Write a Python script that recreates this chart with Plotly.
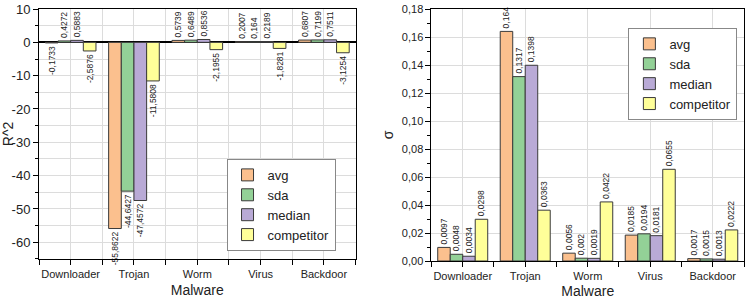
import plotly.graph_objects as go

categories = ["Downloader", "Trojan", "Worm", "Virus", "Backdoor"]
series_names = ["avg", "sda", "median", "competitor"]

r2_avg = [-0.1733, -55.8622, 0.5739, 0.2007, 0.6807]
r2_sda = [0.4272, -44.6427, 0.6489, 0.164, 0.7199]
r2_median = [0.5883, -47.4572, 0.8536, 0.2189, 0.7511]
r2_competitor = [-2.5876, -11.5808, -2.1955, -1.8281, -3.1254]

sigma_avg = [0.0097, 0.164, 0.0056, 0.0185, 0.0017]
sigma_sda = [0.0048, 0.1317, 0.002, 0.0194, 0.0015]
sigma_median = [0.0034, 0.1398, 0.0019, 0.0181, 0.0013]
sigma_competitor = [0.0298, 0.0363, 0.0422, 0.0655, 0.0222]

r2_ticks = [10, 0, -10, -20, -30, -40, -50, -60]
r2_ticklabels = ["10", "0", "-10", "-20", "-30", "-40", "-50", "-60"]

colors = ["#FBC08E", "#93D197", "#B9AAD6", "#FFFF99"]
FONT = "Liberation Sans, Arial, sans-serif"

x_pos = list(range(len(categories)))


def fmt(v):
    return str(v).replace(".", ",")


fig = go.Figure()

left_series = [r2_avg, r2_sda, r2_median, r2_competitor]
right_series = [sigma_avg, sigma_sda, sigma_median, sigma_competitor]

for name, vals, col in zip(series_names, left_series, colors):
    fig.add_trace(go.Bar(
        x=x_pos, y=vals, name=name, marker=dict(color=col, line=dict(color="#3a3a3a", width=1)),
        text=[fmt(v) for v in vals], textposition="outside", textangle=-90,
        textfont=dict(size=8.5, color="#222", family=FONT), cliponaxis=False,
        constraintext="none", xaxis="x", yaxis="y", legend="legend",
        offsetgroup=name + "L",
    ))

for name, vals, col in zip(series_names, right_series, colors):
    fig.add_trace(go.Bar(
        x=x_pos, y=vals, name=name, marker=dict(color=col, line=dict(color="#3a3a3a", width=1)),
        text=[fmt(v) for v in vals], textposition="outside", textangle=-90,
        textfont=dict(size=8.5, color="#222", family=FONT), cliponaxis=False,
        constraintext="none", xaxis="x2", yaxis="y2", legend="legend2",
        offsetgroup=name + "R",
    ))

grid = "#dcdcdc"
half_vals = [i - 0.5 for i in range(len(categories) + 1)]

common_x = dict(
    range=[-0.5, len(categories) - 0.5], tickmode="array", tickvals=x_pos, ticktext=categories,
    showline=True, linecolor="black", linewidth=1, mirror=True, ticks="outside", ticklen=5,
    tickcolor="black", showgrid=True, gridcolor=grid, zeroline=False, automargin=False,
    tickfont=dict(size=11, family=FONT, color="#222"),
    title=dict(text="Malware", font=dict(size=14, family=FONT, color="#222"), standoff=6),
)

fig.update_layout(
    width=748, height=299,
    margin=dict(l=39, r=3, t=7, b=38),
    paper_bgcolor="white", plot_bgcolor="white",
    barmode="group", bargap=0.2, bargroupgap=0,
    separators=",.",
    font=dict(family=FONT, color="#222"),
    xaxis=dict(common_x, domain=[0, 0.449], anchor="y",
               minor=dict(tickmode="array", tickvals=half_vals, ticks="outside", ticklen=5,
                          tickcolor="black", showgrid=True, gridcolor=grid)),
    xaxis2=dict(common_x, domain=[0.5567, 1.0], anchor="y2",
                minor=dict(tickmode="array", tickvals=half_vals, ticks="outside", ticklen=5,
                           tickcolor="black", showgrid=False)),
    yaxis=dict(domain=[0.008, 1], anchor="x", range=[-65, 10],
               tickmode="array", tickvals=r2_ticks, ticktext=r2_ticklabels,
               ticklabeloverflow="allow",
               showline=True, linecolor="black", linewidth=1, mirror=True, ticks="outside",
               ticklen=5, tickcolor="black", showgrid=True, gridcolor=grid, automargin=False,
               zeroline=True, zerolinecolor="black", zerolinewidth=1.5,
               minor=dict(dtick=5, tick0=0, ticks="outside", ticklen=3, tickcolor="black",
                          showgrid=True, gridcolor=grid),
               tickfont=dict(size=13, family=FONT, color="#222"),
               title=dict(text="R^2", font=dict(size=14, family=FONT, color="#222"))),
    yaxis2=dict(domain=[0, 1.0], anchor="x2", range=[0, 0.18], tick0=0, dtick=0.02,
                tickformat=".2f", automargin=True,
                showline=True, linecolor="black", linewidth=1, mirror=True, ticks="outside",
                ticklen=5, tickcolor="black", showgrid=True, gridcolor=grid, zeroline=False,
                minor=dict(dtick=0.01, tick0=0, ticks="outside", ticklen=3, tickcolor="black",
                           showgrid=False),
                tickfont=dict(size=11, family=FONT, color="#222"),
                title=dict(text="σ", font=dict(size=14, family=FONT, color="#222"), standoff=4)),
    legend=dict(x=0.266, y=0.405, xanchor="left", yanchor="top", bgcolor="white",
                bordercolor="#888", borderwidth=1, font=dict(size=13, family=FONT, color="#222"),
                tracegroupgap=0, itemwidth=30),
    legend2=dict(x=0.836, y=0.925, xanchor="left", yanchor="top", bgcolor="white",
                 bordercolor="#888", borderwidth=1, font=dict(size=13, family=FONT, color="#222"),
                 tracegroupgap=0, itemwidth=30),
)

post = (
    "document.body.style.margin='0px';"
    "document.querySelectorAll('g.ytick text').forEach(function(t){"
    "t.style.display='';t.style.opacity='1';t.removeAttribute('display');});"
)

fig.write_html("out.html", config={"displayModeBar": False}, post_script=post)
